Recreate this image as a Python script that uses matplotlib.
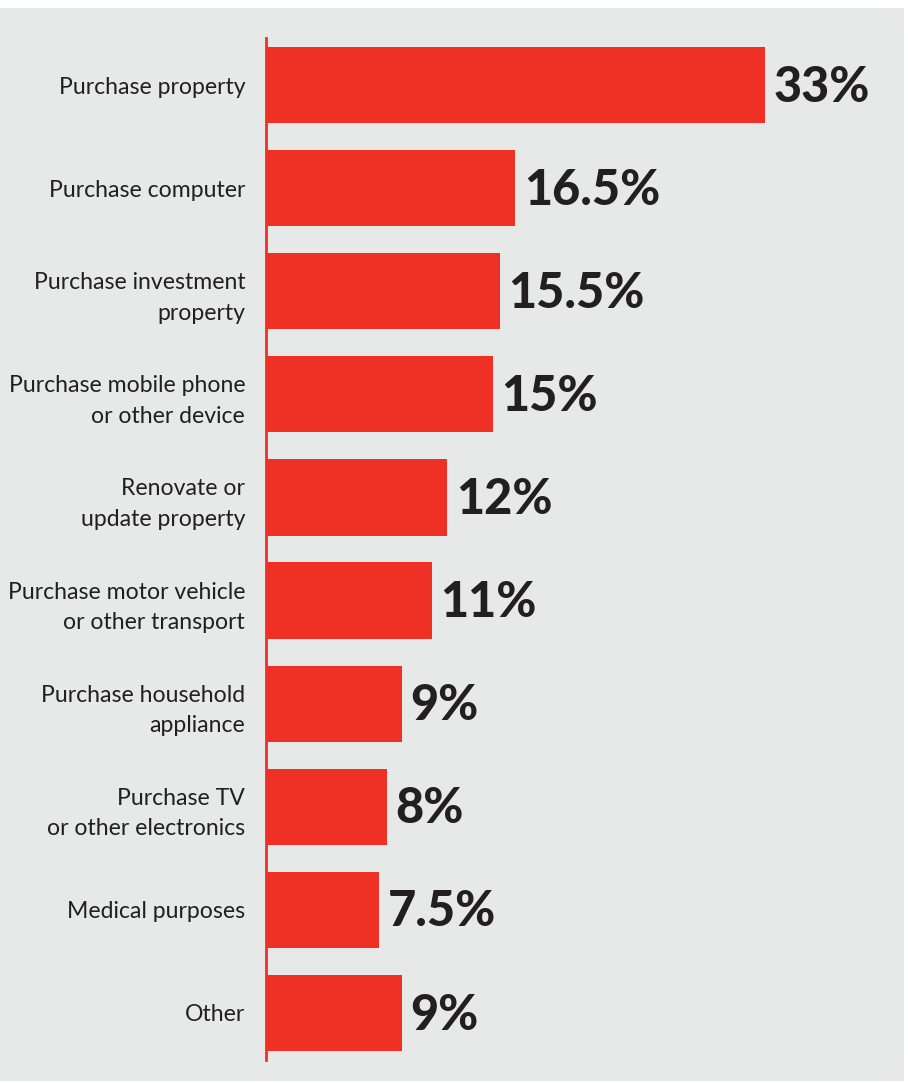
import matplotlib.pyplot as plt
from matplotlib.patches import Rectangle

categories = [
    "Purchase property",
    "Purchase computer",
    "Purchase investment\nproperty",
    "Purchase mobile phone\nor other device",
    "Renovate or\nupdate property",
    "Purchase motor vehicle\nor other transport",
    "Purchase household\nappliance",
    "Purchase TV\nor other electronics",
    "Medical purposes",
    "Other",
]
values = [33, 16.5, 15.5, 15, 12, 11, 9, 8, 7.5, 9]
value_labels = ["33%", "16.5%", "15.5%", "15%", "12%", "11%", "9%", "8%", "7.5%", "9%"]

RED = "#ee3124"
DARK = "#231f20"
BG = "#e7e8e8"

W, H = 908, 1083
fig = plt.figure(figsize=(W / 100, H / 100), dpi=100)
fig.patch.set_facecolor("white")
# grey panel behind the chart
fig.patches.append(Rectangle((0, 2 / H), 904 / W, (1075 - 2) / H,
                             transform=fig.transFigure, facecolor=BG,
                             edgecolor="none", zorder=-5))

ax = fig.add_axes([266 / W, (H - 1060) / H, (904 - 266) / W, (1060 - 38) / H])
ax.set_facecolor("none")

pos = list(range(len(categories)))
ax.barh(pos, values, height=0.74, color=RED, zorder=2)
ax.set_xlim(0, 42.2)
ax.set_ylim(9.456, -0.456)

for p, v, lab in zip(pos, values, value_labels):
    ax.text(v + 0.55, p + 0.02, lab, va="center", ha="left", fontsize=35,
            fontweight="black", color=DARK, family=["Lato", "DejaVu Sans"])

ax.set_yticks(pos)
ax.set_yticklabels(categories, fontsize=16.6, color=DARK,
                   family=["Lato", "DejaVu Sans"], linespacing=1.55, ha="right")
ax.tick_params(axis="y", length=0, pad=15)
ax.set_xticks([])

for s in ["top", "right", "bottom"]:
    ax.spines[s].set_visible(False)
ax.spines["left"].set_color(RED)
ax.spines["left"].set_linewidth(2)

fig.savefig("out.png", dpi=100, facecolor=fig.get_facecolor())
